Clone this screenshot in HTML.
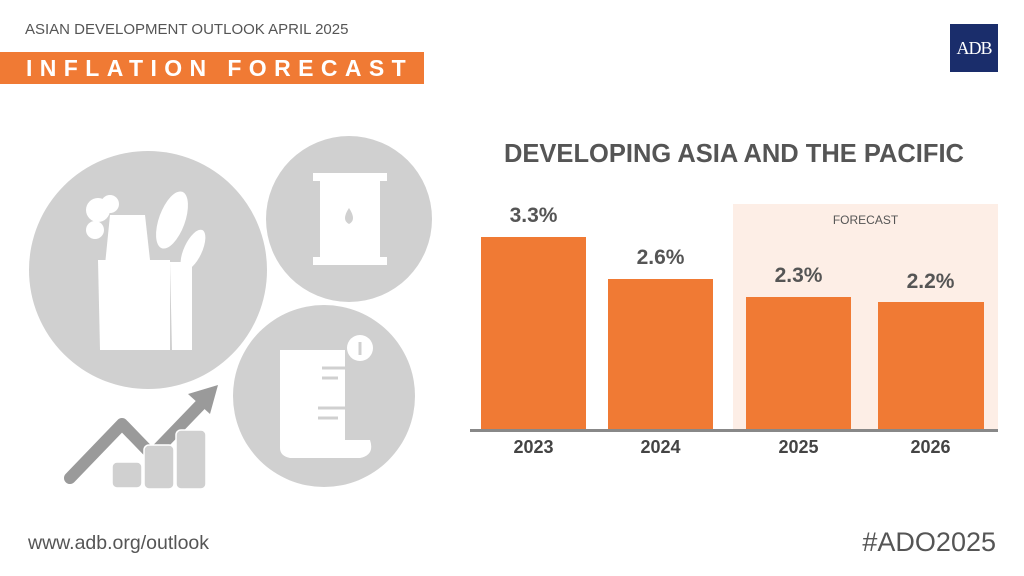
<!DOCTYPE html>
<html><head><meta charset="utf-8"><style>
*{margin:0;padding:0;box-sizing:border-box}
body{width:1024px;height:576px;background:#fff;position:relative;overflow:hidden;font-family:"Liberation Sans",sans-serif}
.a{position:absolute;white-space:nowrap}
.bar{position:absolute;background:#f07a34}
.v{position:absolute;font-weight:bold;color:#555;font-size:21px;text-align:center;width:105px}
.y{position:absolute;font-weight:bold;color:#444;font-size:18px;text-align:center;width:105px;top:437px}
</style></head><body>
<div class="a" style="left:25px;top:21px;font-size:15px;color:#555">ASIAN DEVELOPMENT OUTLOOK APRIL 2025</div>
<div class="a" style="left:0;top:52px;width:424px;height:32px;background:#f07a34"></div>
<div class="a" style="left:26px;top:52px;color:#fff;font-size:23px;font-weight:bold;letter-spacing:7.4px;line-height:33px">INFLATION FORECAST</div>
<div class="a" style="left:950px;top:24px;width:48px;height:48px;background:#1a2d6b;color:#fff;font-family:'Liberation Serif',serif;font-size:18px;text-align:center;line-height:48px;letter-spacing:-1px">ADB</div>

<svg class="a" style="left:0;top:0" width="460" height="576">
<circle cx="148" cy="270" r="119" fill="#d0d0d0"/>
<circle cx="349" cy="219" r="83" fill="#d0d0d0"/>
<circle cx="324" cy="396" r="91" fill="#d0d0d0"/>
<g fill="#fff">
<circle cx="98" cy="210" r="12"/><circle cx="110" cy="204" r="9"/><circle cx="95" cy="230" r="9"/>
<ellipse cx="172" cy="220" rx="13" ry="30" transform="rotate(20 172 220)"/>
<ellipse cx="193" cy="250" rx="9" ry="22" transform="rotate(25 193 250)"/>
<path d="M110 215 L145 215 L150 260 L105 265Z"/>
<path d="M98 260 L170 260 L170 350 L100 350Z"/>
<path d="M170 262 L192 262 L192 350 L172 350Z"/>
</g>
<g fill="#fff">
<rect x="313" y="173" width="74" height="8"/><rect x="313" y="257" width="74" height="8"/>
<rect x="320" y="181" width="60" height="76"/>
</g>
<path d="M349 208 q-8 12 0 16 q8 -4 0 -16Z" fill="#d0d0d0"/>
<g fill="#fff">
<path d="M280 350 L345 350 L345 440 L370 440 Q375 455 360 458 L290 458 Q280 456 280 448Z"/>
<circle cx="360" cy="348" r="13"/>
</g>
<g stroke="#d0d0d0" stroke-width="3"><line x1="322" y1="368" x2="345" y2="368"/><line x1="322" y1="378" x2="338" y2="378"/><line x1="318" y1="408" x2="345" y2="408"/><line x1="318" y1="418" x2="338" y2="418"/><line x1="360" y1="355" x2="360" y2="342"/></g>
<path d="M70 478 L122 424 L152 455 L205 400" stroke="#9a9a9a" stroke-width="12" fill="none" stroke-linecap="round" stroke-linejoin="round"/>
<path d="M218 385 L188 394 L210 414Z" fill="#9a9a9a"/>
<g fill="#d0d0d0" stroke="#fff" stroke-width="1.5">
<rect x="112" y="462" width="30" height="26" rx="5"/>
<rect x="144" y="445" width="30" height="44" rx="5"/>
<rect x="176" y="430" width="30" height="59" rx="5"/>
</g>
</svg>

<div class="a" style="left:470px;top:140px;width:528px;text-align:center;font-weight:bold;font-size:25.5px;color:#555">DEVELOPING ASIA AND THE PACIFIC</div>
<div class="a" style="left:733px;top:204px;width:265px;height:226px;background:#fdeee6"></div>
<div class="a" style="left:733px;top:213px;width:265px;text-align:center;font-size:12px;color:#555">FORECAST</div>
<div class="bar" style="left:481px;top:237px;width:105px;height:193px"></div>
<div class="bar" style="left:608px;top:279px;width:105px;height:151px"></div>
<div class="bar" style="left:746px;top:297px;width:105px;height:133px"></div>
<div class="bar" style="left:878px;top:302px;width:106px;height:128px"></div>
<div class="a" style="left:470px;top:429px;width:528px;height:3px;background:#888"></div>
<div class="v" style="left:481px;top:204px">3.3%</div>
<div class="v" style="left:608px;top:246px">2.6%</div>
<div class="v" style="left:746px;top:264px">2.3%</div>
<div class="v" style="left:878px;top:270px">2.2%</div>
<div class="y" style="left:481px">2023</div>
<div class="y" style="left:608px">2024</div>
<div class="y" style="left:746px">2025</div>
<div class="y" style="left:878px">2026</div>

<div class="a" style="left:28px;top:532px;font-size:19.5px;color:#555">www.adb.org/outlook</div>
<div class="a" style="right:28px;top:527px;font-size:27px;color:#555">#ADO2025</div>
</body></html>
